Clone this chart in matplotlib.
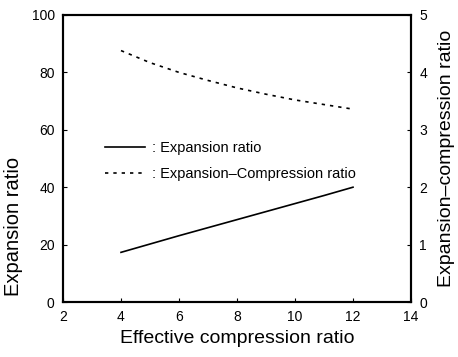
import numpy as np
import matplotlib.pyplot as plt

plt.rcParams['font.family'] = ['Liberation Sans', 'DejaVu Sans']

# data
comp_ratio = [4, 5, 6, 7, 8, 9, 10, 11, 12]
expansion = [17.3, 20.2, 23.1, 25.9, 28.7, 31.5, 34.3, 37.1, 40.0]
exp_comp = [4.38, 4.17, 4.00, 3.86, 3.73, 3.62, 3.52, 3.44, 3.36]

fig = plt.figure(figsize=(4.58, 3.57), dpi=100)
ax = fig.add_axes([63/458, 1 - 302/357, 348/458, 287/357])
ax2 = ax.twinx()

l1, = ax.plot(comp_ratio, expansion, color='black', lw=1.2)
l2, = ax2.plot(comp_ratio, exp_comp, color='black', lw=1.2, ls=(0, (2, 3)))

ax.set_xlim(2, 14)
ax.set_ylim(0, 100)
ax2.set_ylim(0, 5)
ax.set_xticks(range(2, 15, 2))
ax.set_yticks(range(0, 101, 20))
ax2.set_yticks(range(0, 6))

for a in (ax, ax2):
    a.tick_params(direction='in', length=3, labelsize=10, pad=6)
    for s in a.spines.values():
        s.set_linewidth(1.5)

ax.set_xlabel('Effective compression ratio', fontsize=14, labelpad=4)
ax.set_ylabel('Expansion ratio', fontsize=14.5)
ax.yaxis.set_label_coords(-0.115, 0.265)
ax2.set_ylabel('Expansion\u2013compression ratio', fontsize=14, labelpad=8)

ax.legend([l1, l2], [': Expansion ratio', ': Expansion\u2013Compression ratio'],
          loc='upper left', bbox_to_anchor=(0.082, 0.608), frameon=False,
          fontsize=10.5, handlelength=2.75, handletextpad=0.5, labelspacing=0.85)

fig.savefig('out.png', dpi=100)
